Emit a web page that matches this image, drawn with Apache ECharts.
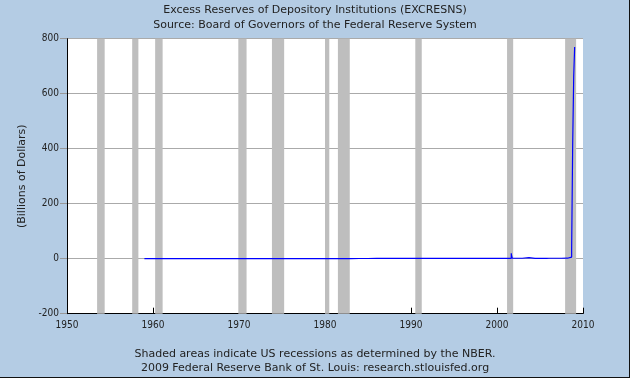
<!DOCTYPE html>
<html>
<head>
<meta charset="utf-8">
<script src="https://cdn.jsdelivr.net/npm/echarts@6/dist/echarts.min.js"></script>
<style>
html,body{margin:0;padding:0;background:#B4CCE4;}
#chart{width:630px;height:378px;}
</style>
</head>
<body>
<div id="chart"></div>
<script>
// Observation dates (decimal years) and excess reserves (billions of dollars)
const dates = [
  1959.0,1960,1961,1962,1963,1964,1965,1966,1967,1968,1969,1970,1971,1972,1973,1974,
  1975,1976,1977,1978,1979,1980,1981,1982,1983,1984,1985,1986,1987,1988,1989,1990,
  1991,1992,1993,1994,1995,1996,1997,1998,1999,1999.96,
  2000.03,2000.07,2001.0,2001.66,2001.70,2001.78,
  2002.94,2002.98,2003.17,2003.72,2004.42,2004.46,2004.92,2004.96,
  2005.78,2005.82,2006.0,2006.04,2006.4,2006.44,2006.94,2006.98,2007.48,2007.52,
  2008.2,2008.68,2008.8,2008.92,2009.03
];
const values = [
  0.5,0.6,0.5,0.5,0.4,0.4,0.4,0.4,0.4,0.4,0.3,0.2,0.3,0.2,0.2,0.3,
  0.2,0.3,0.2,0.3,0.4,0.5,0.4,0.5,0.7,0.8,1.0,1.3,1.0,1.0,0.9,1.0,
  1.0,1.3,1.1,1.2,1.1,1.0,1.3,1.5,1.4,1.4,
  5,1.4,1.3,20,10,1.6,
  5,1.5,4,1.5,5,1.5,5,1.5,
  5,1.6,5,1.6,5,1.6,5,1.7,5,1.8,
  6,36,415,663,770
];
// NBER recession periods (start, end) in decimal years
const recessionStart = [1953.5,1957.58,1960.25,1969.92,1973.83,1980.0,1981.5,1990.5,2001.17,2007.92];
const recessionEnd   = [1954.38,1958.3,1961.12,1970.88,1975.25,1980.5,1982.88,1991.25,2001.88,2009.2];
// Axis ticks
const xTicks = {min:1950,max:2010,interval:10};
const yTicks = {min:-200,max:800,interval:200};

const titleLines = ['Excess Reserves of Depository Institutions (EXCRESNS)','Source: Board of Governors of the Federal Reserve System'];
const noteLines = ['Shaded areas indicate US recessions as determined by the NBER.','2009 Federal Reserve Bank of St. Louis: research.stlouisfed.org'];
const yName = '(Billions of Dollars)';

const FONT = '"DejaVu Sans",sans-serif';
const TICKFONT = '"DejaVu Sans Condensed","DejaVu Sans",sans-serif';
const chart = echarts.init(document.getElementById('chart'),null,{renderer:'canvas'});
const seriesData = dates.map((d,i)=>[d,values[i]]);
const areas = recessionStart.map((s,i)=>[{xAxis:s},{xAxis:recessionEnd[i]}]);
const ts = {fontFamily:FONT,fontSize:11,fontWeight:'normal',color:'#222'};

chart.setOption({
  backgroundColor:'#B4CCE4',
  animation:false,
  title:[
    {text:titleLines[0],left:'center',top:5,padding:0,textStyle:ts},
    {text:titleLines[1],left:'center',top:20,padding:0,textStyle:ts},
    {text:noteLines[0],left:'center',top:349,padding:0,textStyle:ts},
    {text:noteLines[1],left:'center',top:363,padding:0,textStyle:ts}
  ],
  grid:{left:67,right:47,top:38.7,bottom:64.3,show:true,backgroundColor:'#fff',borderWidth:0},
  xAxis:{
    type:'value',min:xTicks.min,max:xTicks.max,interval:xTicks.interval,
    axisLine:{show:true,onZero:false,lineStyle:{color:'#000',width:1}},
    axisTick:{show:true,inside:true,length:6,lineStyle:{color:'#000'}},
    splitLine:{show:false},
    axisLabel:{formatter:v=>String(v),fontFamily:TICKFONT,fontSize:10,color:'#222',margin:7}
  },
  yAxis:{
    type:'value',min:yTicks.min,max:yTicks.max,interval:yTicks.interval,
    name:yName,nameLocation:'middle',nameGap:39,nameRotate:90,
    nameTextStyle:{fontFamily:FONT,fontSize:11,color:'#222'},
    axisLine:{show:true,lineStyle:{color:'#000',width:1}},
    axisTick:{show:true,length:7,lineStyle:{color:'#999'}},
    splitLine:{show:true,lineStyle:{color:'#AAAAAA',width:1}},
    axisLabel:{fontFamily:TICKFONT,fontSize:10,color:'#222',margin:8}
  },
  series:[{
    type:'line',data:seriesData,step:'end',showSymbol:false,
    lineStyle:{color:'#0000FF',width:1.2},
    markArea:{silent:true,itemStyle:{color:'#BEBEBE'},data:areas},
    z:3
  }],
  graphic:[
    {type:'line',shape:{x1:629.5,y1:0,x2:629.5,y2:378},style:{stroke:'#111',lineWidth:1}},
    {type:'line',shape:{x1:0,y1:377.5,x2:630,y2:377.5},style:{stroke:'#111',lineWidth:1}}
  ]
});
</script>
</body>
</html>
